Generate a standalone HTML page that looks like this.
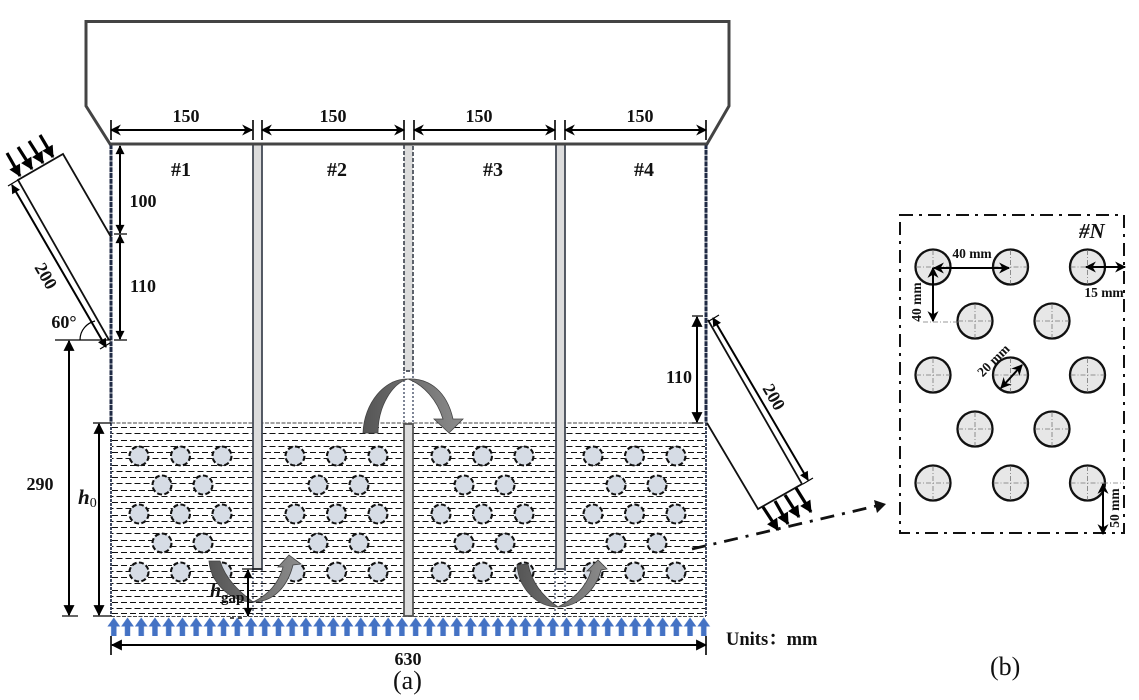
<!DOCTYPE html>
<html><head><meta charset="utf-8"><style>
html,body{margin:0;padding:0;background:#fff}
svg{display:block}
text{font-family:"Liberation Serif","Noto Serif CJK SC",serif;fill:#111}
.b{font-weight:bold;font-size:18px;text-anchor:middle}
.s{font-weight:bold;font-size:13.5px;text-anchor:middle}
.d{stroke:#000;stroke-width:2;fill:none}
.t{stroke:#000;stroke-width:1.2;fill:none}
.ax{stroke:#000;stroke-width:3.2;fill:none;marker-end:url(#ah)}
</style></head><body>
<svg width="1139" height="700" viewBox="0 0 1139 700" xmlns="http://www.w3.org/2000/svg">
<defs>
<marker id="e" viewBox="0 0 10 10" refX="9" refY="5" markerWidth="12" markerHeight="11" markerUnits="userSpaceOnUse" orient="auto-start-reverse"><path d="M0,0L10,5L0,10z" fill="#000"/></marker>
<marker id="es" viewBox="0 0 10 10" refX="9" refY="5" markerWidth="10" markerHeight="9" markerUnits="userSpaceOnUse" orient="auto-start-reverse"><path d="M0,0L10,5L0,10z" fill="#000"/></marker>
<marker id="ah" viewBox="0 0 10 10" refX="9" refY="5" markerWidth="13" markerHeight="12" markerUnits="userSpaceOnUse" orient="auto"><path d="M0,0L10,5L0,10z" fill="#000"/></marker>
<marker id="n" viewBox="0 0 10 10" refX="9" refY="5" markerWidth="12" markerHeight="11" markerUnits="userSpaceOnUse" orient="auto-start-reverse"><path d="M0,0L10,5L0,10L3,5z" fill="#000"/></marker>
<pattern id="up" x="107" y="617" width="13.72" height="20" patternUnits="userSpaceOnUse"><path d="M6.8,.5L13.2,9.500H9.500V19H4.100V9.500H.4z" fill="#4472c4"/></pattern>
<linearGradient id="g1" x1="0" x2="1" y1="0" y2="0"><stop offset="0" stop-color="#555"/><stop offset="1" stop-color="#8c8c8c"/></linearGradient>
<g id="c"><circle r="9.500" fill="#d6dce5" stroke="#111" stroke-width="2.100" stroke-dasharray="5 2.400"/></g>
<g id="r1"><use href="#c" x="0" y="0"/><use href="#c" x="41.5" y="0"/><use href="#c" x="83" y="0"/></g>
<g id="r2"><use href="#c" x="23" y="0"/><use href="#c" x="64" y="0"/></g>
<g id="set"><use href="#r1" y="456"/><use href="#r2" y="485"/><use href="#r1" y="514"/><use href="#r2" y="543"/><use href="#r1" y="572"/></g>
<g id="p"><circle r="17.5" fill="#e7e7e7" stroke="#111" stroke-width="2.300"/><path d="M-17,0H17M0,-17V17" stroke="#777" stroke-width=".8" stroke-dasharray="5 2 1 2"/></g>
</defs>

<!-- hopper -->
<path d="M110,144L86,106V21.5H729V106L707,144Z" fill="#fff" stroke="#444" stroke-width="3"/>

<!-- water -->
<path d="M112,427.5H705M112,440.5H705M112,452.5H705M112,465.5H705M112,477.5H705M112,490.5H705M112,502.5H705M112,515.5H705M112,527.5H705M112,540.5H705M112,552.5H705M112,565.5H705M112,577.5H705M112,590.5H705M112,602.5H705M112,613.5H705" fill="none" stroke="#111" stroke-width="1.1" stroke-dasharray="6 3"/>
<path d="M112,433.5H705M112,446.5H705M112,458.5H705M112,471.5H705M112,483.5H705M112,496.5H705M112,508.5H705M112,521.5H705M112,533.5H705M112,546.5H705M112,558.5H705M112,571.5H705M112,583.5H705M112,596.5H705M112,608.5H705" fill="none" stroke="#111" stroke-width="1.1" stroke-dasharray="6 3" stroke-dashoffset="4.5"/>
<path d="M111,423H706M111,616.5H706" stroke="#444" stroke-width="1" stroke-dasharray="4 1.5"/>

<!-- tubes -->
<use href="#set" x="139"/><use href="#set" x="295"/><use href="#set" x="441"/><use href="#set" x="593"/>

<!-- walls -->
<path d="M111,144V423M706,144V423" stroke="#1f2a44" stroke-width="3" stroke-dasharray="5 .8"/>
<path d="M111,423V616M706,423V616" stroke="#2a3550" stroke-width="1.8" stroke-dasharray="3 1"/>

<!-- baffles -->
<rect x="253" y="145" width="9" height="424" fill="#dcdcdc"/>
<path d="M253,145V569H262V145" fill="none" stroke="#444a55" stroke-width="1.8"/>
<path d="M253,569V616M262,569V616" stroke="#2a3550" stroke-width="1.2" stroke-dasharray="2 2"/>
<rect x="556" y="145" width="9" height="424" fill="#dcdcdc"/>
<path d="M556,145V569H565V145" fill="none" stroke="#444a55" stroke-width="1.8"/>
<path d="M555,569V616M565,569V616" stroke="#2a3550" stroke-width="1.2" stroke-dasharray="2 2"/>
<rect x="404" y="145" width="9" height="226" fill="#dcdcdc"/>
<path d="M404,145V371H413V145" fill="none" stroke="#444a55" stroke-width="1.7" stroke-dasharray="4 2"/>
<path d="M404,372V423M413,372V423" stroke="#2a3550" stroke-width="1.2" stroke-dasharray="2 2"/>
<rect x="404" y="424" width="9" height="192" fill="#dcdcdc" stroke="#555" stroke-width="1.8"/>
<path d="M110,144H707" stroke="#444" stroke-width="3"/>

<!-- flow arrows -->
<path d="M363,433C364,403 385,378 408,379C430,378 447,392 453,419L463,419L449,433L434,419L443,419C437,400 424,385 408,379C393,383 378,405 378,433Z" fill="url(#g1)" stroke="#444" stroke-width=".8"/>
<path d="M209,561C211,583 230,602 253,602C275,602 288,585 293,565L301,564L289,555L278,567L283,567C279,583 268,595 253,602C240,592 226,580 220,561Z" fill="url(#g1)" stroke="#444" stroke-width=".8"/>
<path d="M517,565C519,590 538,607 558,607C578,607 596,590 601,570L607,569L598,560L587,571L591,571C586,588 572,600 558,607C545,598 532,584 528,564Z" fill="url(#g1)" stroke="#444" stroke-width=".8"/>

<!-- bottom blue arrows -->
<rect x="107" y="617" width="603.7" height="20" fill="url(#up)"/>

<!-- top dims -->
<g class="d">
<path d="M111,130H252" marker-start="url(#n)" marker-end="url(#n)"/>
<path d="M262,130H404" marker-start="url(#n)" marker-end="url(#n)"/>
<path d="M414,130H555" marker-start="url(#n)" marker-end="url(#n)"/>
<path d="M565,130H706" marker-start="url(#n)" marker-end="url(#n)"/>
<path d="M111,120V140M253,120V140M262,120V140M404,120V140M414,120V140M555,120V140M565,120V140M706,120V140" stroke-width="1.6"/>
</g>
<text class="b" x="186" y="122">150</text><text class="b" x="333" y="122">150</text><text class="b" x="479" y="122">150</text><text class="b" x="640" y="122">150</text>
<g style="font-weight:bold;font-size:20px;text-anchor:middle">
<text x="181" y="176">#1</text><text x="337" y="176">#2</text><text x="493" y="176">#3</text><text x="644" y="176">#4</text></g>

<!-- left inlet -->
<path d="M111,237L63,154L18,180L109,340" fill="none" stroke="#111" stroke-width="1.8"/>
<path d="M12,185L106,347" class="d" marker-start="url(#es)" marker-end="url(#es)"/>
<path d="M8,186L18,180M100,349L110,343" class="t"/>
<path d="M7,153L20,176" class="ax"/><path d="M18,147L32,169" class="ax"/><path d="M29,141L43,163" class="ax"/><path d="M40,135L53,157" class="ax"/>
<text class="b" x="46" y="282" transform="rotate(60 46 276)">200</text>
<text class="b" x="64" y="328">60°</text>
<path d="M55,340H111" class="t"/>
<path d="M80,340C80,330 87,323 95,321" class="t" stroke-width=".9"/>

<!-- vertical dims left -->
<path d="M120,146V233" class="d" marker-start="url(#es)" marker-end="url(#es)"/>
<path d="M120,235V339" class="d" marker-start="url(#es)" marker-end="url(#es)"/>
<path d="M114,234H127M114,340H127" class="t"/>
<text class="b" x="143" y="207">100</text><text class="b" x="143" y="292">110</text>
<path d="M69,341V615" class="d" marker-start="url(#e)" marker-end="url(#e)"/>
<path d="M62,616H78" class="t"/>
<text class="b" x="40" y="490">290</text>
<path d="M99,424V615" class="d" marker-start="url(#e)" marker-end="url(#e)"/>
<path d="M93,423H111M93,616H111" class="t"/>
<text x="78" y="504" style="font-size:21px;font-weight:bold;font-style:italic">h<tspan style="font-size:14px;font-style:normal;font-weight:normal" dy="3">0</tspan></text>

<!-- hgap -->
<path d="M248,570V616" class="d" stroke-width="1.5" marker-start="url(#es)" marker-end="url(#es)"/>
<path d="M242,569H262" stroke="#111" stroke-width="1.2"/>
<path d="M230,618H246" stroke="#111" stroke-width="1.4" stroke-dasharray="4 4"/>
<text x="210" y="597" style="font-size:20px;font-style:italic;font-weight:bold">h</text>
<text x="221" y="602" style="font-size:15px;font-weight:bold">gap</text>

<!-- right inlet -->
<path d="M708,320L802,484L758,509L707,423" fill="none" stroke="#111" stroke-width="1.8"/>
<path d="M713,318L808,480" class="d" marker-start="url(#es)" marker-end="url(#es)"/>
<path d="M709,321L719,315M803,484L813,478" class="t"/>
<path d="M763,507L778,530" class="ax"/><path d="M775,501L788,524" class="ax"/><path d="M785,495L799,517" class="ax"/><path d="M796,488L811,512" class="ax"/>
<text class="b" x="774" y="403" transform="rotate(60 774 397)">200</text>
<path d="M697,317V422" class="d" marker-start="url(#e)" marker-end="url(#e)"/>
<path d="M692,316H703M692,423H703" class="t"/>
<text class="b" x="679" y="383">110</text>

<!-- dash dot pointer -->
<path d="M692,549L876,506" stroke="#111" stroke-width="2.8" stroke-dasharray="14 8 3 8" fill="none"/>
<path d="M874,500L886,504L877,513Z" fill="#111"/>

<!-- bottom dim -->
<path d="M112,645H706" class="d" marker-start="url(#e)" marker-end="url(#e)"/>
<path d="M111,636V655M706,636V655" stroke="#000" stroke-width="1.6"/>
<text class="b" x="408" y="665">630</text>
<text x="393" y="689" style="font-size:26px">(a)</text>
<text x="726" y="645" style="font-size:18.500px;font-weight:bold">Units：mm</text>
<text x="990" y="675" style="font-size:26px">(b)</text>

<!-- panel b -->
<rect x="900" y="215" width="224" height="318" fill="#fff" stroke="#111" stroke-width="2" stroke-dasharray="13 6 3 6"/>
<use href="#p" x="933" y="267"/><use href="#p" x="1010.500" y="267"/><use href="#p" x="1087.500" y="267"/>
<use href="#p" x="975" y="321"/><use href="#p" x="1052" y="321"/>
<use href="#p" x="933" y="375"/><use href="#p" x="1010.500" y="375"/><use href="#p" x="1087.500" y="375"/>
<use href="#p" x="975" y="429"/><use href="#p" x="1052" y="429"/>
<use href="#p" x="933" y="483"/><use href="#p" x="1010.500" y="483"/><use href="#p" x="1087.500" y="483"/>
<text x="1079" y="238" style="font-size:21px;font-style:italic;font-weight:bold">#N</text>
<path d="M934,268H1009" class="d" marker-start="url(#n)" marker-end="url(#n)"/>
<path d="M933,268V321" class="d" marker-start="url(#n)" marker-end="url(#n)"/>
<path d="M923,322H958" stroke="#777" stroke-width=".8" stroke-dasharray="5 2 1 2"/>
<path d="M1086,267H1125" class="d" marker-start="url(#n)" marker-end="url(#n)"/>
<path d="M1001,388L1022,365" class="d" marker-start="url(#n)" marker-end="url(#n)"/>
<path d="M1103,483H1124" stroke="#777" stroke-width=".8" stroke-dasharray="5 2 1 2"/>
<path d="M1103,484V534" class="d" marker-start="url(#n)" marker-end="url(#n)"/>
<text class="s" x="972" y="258">40 mm</text>
<text class="s" x="1104" y="297">15 mm</text>
<text class="s" x="921" y="302" transform="rotate(-90 921 302)">40 mm</text>
<text class="s" x="993" y="365" transform="rotate(-45 993 360)">20 mm</text>
<text class="s" x="1119" y="508" transform="rotate(-90 1119 508)">50 mm</text>
</svg>
</body></html>
